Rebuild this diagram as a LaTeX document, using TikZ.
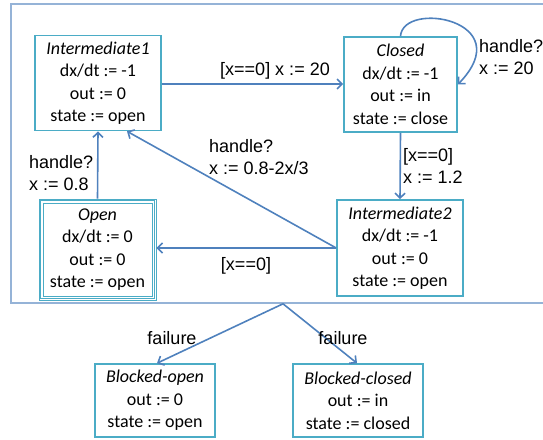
\documentclass[tikz,border=0pt]{standalone}
\usepackage{fontspec}
\setmainfont{Carlito}
\newfontfamily\lblfont{Liberation Sans}
\usetikzlibrary{arrows.meta,calc}
\definecolor{boxc}{HTML}{4BACC6}
\definecolor{arrc}{HTML}{4F81BD}
\definecolor{sysc}{HTML}{95B3D7}
\tikzset{
  statebox/.style={draw=boxc,line width=1.6pt,rectangle,inner sep=0pt,align=center,
    font=\fontsize{18}{22.5}\selectfont},
  lbl/.style={inner sep=0pt,align=left,font=\lblfont\fontsize{18}{22.5}\selectfont},
  arr/.style={draw=arrc,line width=1.6pt,-{Straight Barb[length=5pt,width=10pt]}},
  sysbox/.style={draw=sysc,line width=1.6pt,rectangle,inner sep=0pt}
}
\begin{document}
\begin{tikzpicture}[x=1pt,y=-1pt]
\useasboundingbox (0,0) rectangle (543,439);
\clip (0,0) rectangle (543,439);
\node[sysbox,minimum width=544pt,minimum height=299pt] (sys) at (283,153.5) {};
\node[statebox,minimum width=126pt,minimum height=95pt] (int1) at (98,83)
  {\textit{Intermediate1}\\dx/dt := -1\\out := 0\\state := open};
\node[statebox,minimum width=113pt,minimum height=95pt] (closed) at (400.5,84.5)
  {\textit{Closed}\\dx/dt := -1\\out := in\\state := close};
\node[statebox,line width=0.9pt,minimum width=117pt,minimum height=101pt] (open) at (97.5,249.5)
  {\textit{Open}\\dx/dt := 0\\out := 0\\state := open};
\draw[boxc,line width=0.9pt] ($(open.north west)+(2.2,2.2)$) rectangle ($(open.south east)+(-2.2,-2.2)$);
\draw[boxc,line width=0.9pt] ($(open.north west)+(4.4,4.4)$) rectangle ($(open.south east)+(-4.4,-4.4)$);
\node[statebox,minimum width=126pt,minimum height=96pt] (int2) at (400,248)
  {\textit{Intermediate2}\\dx/dt := -1\\out := 0\\state := open};
\node[statebox,minimum width=120pt,minimum height=73pt] (bo) at (155,400.5)
  {\textit{Blocked-open}\\out := 0\\state := open};
\node[statebox,minimum width=130pt,minimum height=73pt] (bc) at (358,400.5)
  {\textit{Blocked-closed}\\out := in\\state := closed};
% connectors
\draw[arr] (int1.east |- 0,84) -- (closed.west |- 0,84);
\draw[arr] (closed.north) .. controls (403,0) and (520,20) .. (closed.east);
\draw[arr] (closed.south) -- (int2.north);
\draw[arr] (open.north) -- (int1.south);
\coordinate (i1b) at ($(int1.south)+(29,0)$);
\draw[arr] (int2.west) -- (i1b);
\draw[arr] (int2.west) -- (open.east |- int2.west);
\draw[arr] (sys.south) -- (bo.north -| 157,0);
\draw[arr] (sys.south) -- (bc.north -| 357,0);
% labels
\node[lbl] (l1) at (275,71) {[x==0] x := 20};
\node[lbl,anchor=west] (l2) at (479,57) {handle?\\x := 20};
\node[lbl,anchor=west] (l3) at (403,166) {[x==0]\\x := 1.2};
\node[lbl,anchor=west] (l4) at (29,173) {handle?\\x := 0.8};
\node[lbl,anchor=west] (l5) at (209,157) {handle?\\x := 0.8-2x/3};
\node[lbl] (l6) at (246,266) {[x==0]};
\node[lbl] (l7) at (172,338) {failure};
\node[lbl] (l8) at (343,338) {failure};
\end{tikzpicture}
\end{document}
